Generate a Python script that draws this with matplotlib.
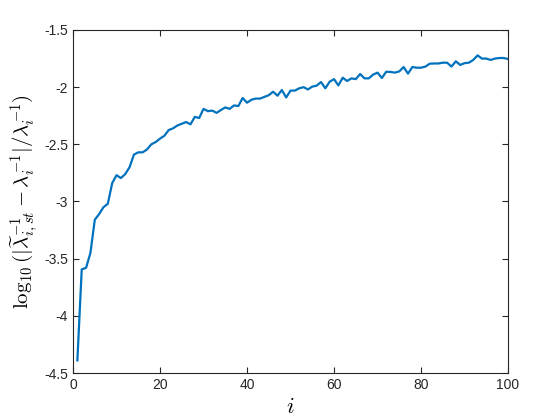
import matplotlib
matplotlib.use("Agg")
import matplotlib.pyplot as plt
import numpy as np

# index i = 1..100
idx = np.arange(1, 101)
err = [
    -4.39, -3.594, -3.58, -3.45, -3.16, -3.11, -3.05, -3.02, -2.84, -2.77,
    -2.795, -2.76, -2.70, -2.59, -2.57, -2.57, -2.545, -2.50, -2.48, -2.45,
    -2.425, -2.375, -2.36, -2.335, -2.32, -2.305, -2.325, -2.26, -2.27, -2.19,
    -2.21, -2.205, -2.225, -2.20, -2.177, -2.19, -2.16, -2.165, -2.095, -2.136,
    -2.11, -2.10, -2.10, -2.085, -2.07, -2.04, -2.075, -2.025, -2.09, -2.03,
    -2.03, -2.01, -2.00, -2.02, -1.995, -1.987, -1.955, -2.01, -1.952, -1.93,
    -1.985, -1.917, -1.946, -1.923, -1.93, -1.885, -1.923, -1.923, -1.89, -1.873,
    -1.92, -1.865, -1.867, -1.873, -1.862, -1.824, -1.882, -1.824, -1.83, -1.83,
    -1.82, -1.795, -1.793, -1.793, -1.786, -1.786, -1.82, -1.774, -1.806, -1.79,
    -1.786, -1.762, -1.722, -1.75, -1.75, -1.762, -1.75, -1.745, -1.745, -1.754,
]
xticks = [0, 20, 40, 60, 80, 100]
yticks = [-4.5, -4, -3.5, -3, -2.5, -2, -1.5]
ytick_labels = ['-4.5', '-4', '-3.5', '-3', '-2.5', '-2', '-1.5']

plt.rcParams['font.family'] = ['Liberation Sans', 'DejaVu Sans']
plt.rcParams['mathtext.fontset'] = 'cm'
plt.rcParams['axes.unicode_minus'] = False

fig = plt.figure(figsize=(5.6, 4.2), dpi=100)
ax = fig.add_axes([0.1304, 0.1119, 0.7768, 0.8167])

ax.plot(idx, err, color='#0072BD', linewidth=1.6)

ax.set_xlim(0, 100)
ax.set_ylim(-4.5, -1.5)
ax.set_xticks(xticks)
ax.set_yticks(yticks)
ax.set_yticklabels(ytick_labels)

ax.tick_params(direction='in', top=True, right=True, length=4, width=0.8,
               labelsize=10, colors='#262626')
for s in ax.spines.values():
    s.set_color('#262626')
    s.set_linewidth(0.8)

ax.set_xlabel(r'$i$', fontsize=16, labelpad=4)
ax.set_ylabel(r'$\log_{10}(|\widetilde{\lambda}_{i,st}^{-1}-\lambda_i^{-1}|/\lambda_i^{-1})$',
              fontsize=15, labelpad=2)

fig.savefig('out.png', dpi=100)
